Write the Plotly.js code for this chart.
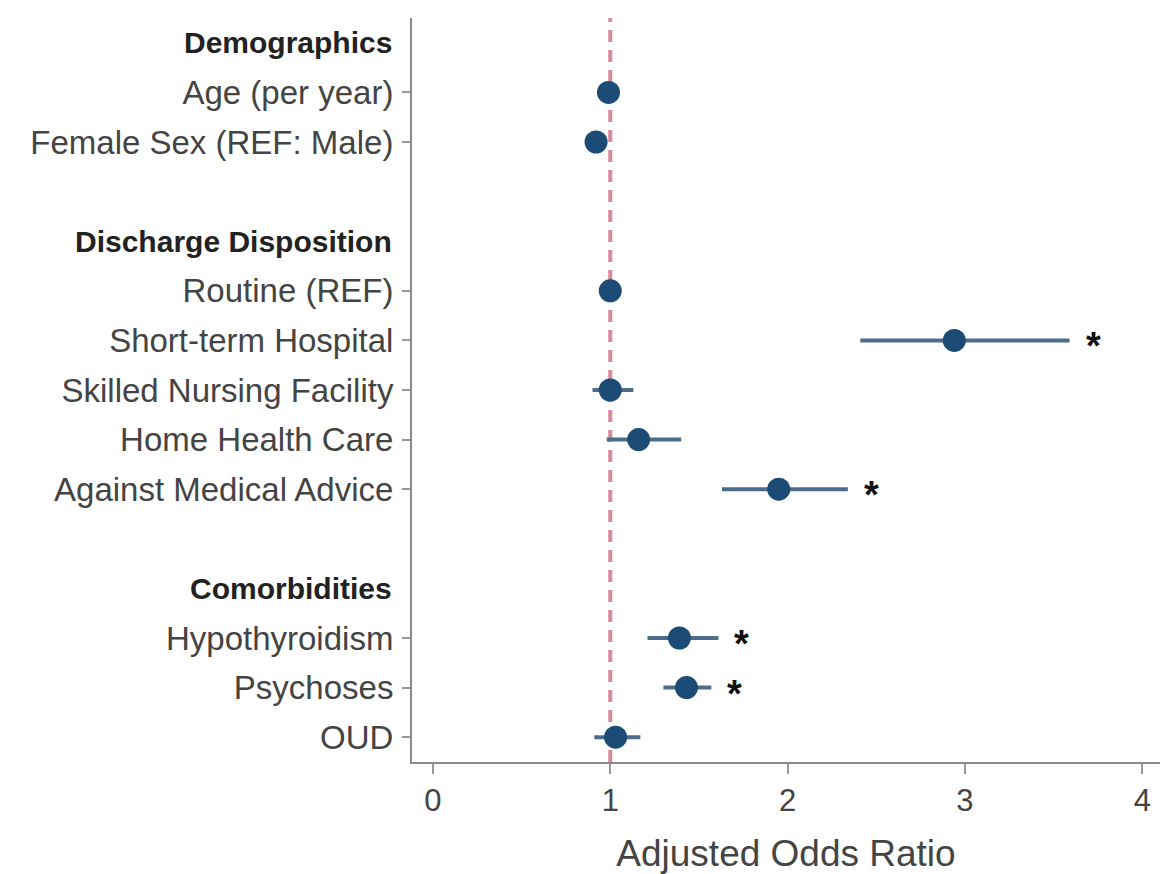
<!DOCTYPE html>
<html><head><meta charset="utf-8">
<script src="https://cdn.plot.ly/plotly-3.0.1.min.js"></script>
<style>html,body{margin:0;padding:0;background:#fff}#chart{width:1160px;height:874px}</style>
</head><body><div id="chart"></div>
<script>
// Row layout (top to bottom), headers and variables
const rowLabels = ["Demographics","Age (per year)","Female Sex (REF: Male)","",
  "Discharge Disposition","Routine (REF)","Short-term Hospital","Skilled Nursing Facility",
  "Home Health Care","Against Medical Advice","","Comorbidities","Hypothyroidism","Psychoses","OUD"];
const headerRows = ["Demographics","Discharge Disposition","Comorbidities"];
const variables = ["Age (per year)","Female Sex (REF: Male)","Routine (REF)","Short-term Hospital",
  "Skilled Nursing Facility","Home Health Care","Against Medical Advice","Hypothyroidism","Psychoses","OUD"];
const aor     = [0.99, 0.92, 1.00, 2.94, 1.00, 1.16, 1.95, 1.39, 1.43, 1.03];
const ciLower = [0.99, 0.92, 1.00, 2.41, 0.90, 0.98, 1.63, 1.21, 1.30, 0.91];
const ciUpper = [0.99, 0.92, 1.00, 3.59, 1.13, 1.40, 2.34, 1.61, 1.57, 1.17];
const significant = [false,false,false,true,false,false,true,true,true,false];
const referenceValue = 1;
const xTicks = [0,1,2,3,4];

const FONT = "Liberation Sans, Arial, sans-serif";
const yPos = variables.map(v => rowLabels.indexOf(v));

const trace = {
  type: "scatter", mode: "markers",
  x: aor, y: yPos,
  marker: {size: 23, color: "#1c4b76"},
  error_x: {
    type: "data", symmetric: false,
    array: aor.map((v,i) => ciUpper[i]-v),
    arrayminus: aor.map((v,i) => v-ciLower[i]),
    color: "#4d6b8a", thickness: 4, width: 0
  },
  hoverinfo: "skip", showlegend: false
};

const annotations = [];
headerRows.forEach(h => {
  annotations.push({
    xref: "paper", yref: "y", x: 0, y: rowLabels.indexOf(h),
    xanchor: "right", yanchor: "middle", xshift: -18,
    text: "<b>" + h + "</b>", showarrow: false,
    font: {family: FONT, size: 30, color: "#222"}
  });
});
variables.forEach((v,i) => {
  if (significant[i]) {
    annotations.push({
      xref: "x", yref: "y", x: ciUpper[i], y: yPos[i],
      xanchor: "left", yanchor: "middle", xshift: 14, yshift: -6,
      text: "<b>*</b>", showarrow: false,
      font: {family: FONT, size: 38, color: "#111"}
    });
  }
});

const layout = {
  width: 1160, height: 874,
  margin: {l: 412, r: 0, t: 18, b: 112},
  paper_bgcolor: "#fff", plot_bgcolor: "#fff",
  font: {family: FONT, color: "#444"},
  xaxis: {
    range: [-0.118, 4.10], tickvals: xTicks, ticktext: xTicks.map(String),
    showgrid: false, zeroline: false, showline: true, linecolor: "#8a8a8a", linewidth: 2,
    ticks: "outside", ticklen: 10, tickwidth: 2, tickcolor: "#999",
    tickfont: {family: FONT, size: 31, color: "#444"},
    title: {text: "Adjusted Odds Ratio", font: {family: FONT, size: 37, color: "#444"}, standoff: 26}
  },
  yaxis: {
    range: [14.5, -0.5], tickvals: yPos, ticktext: variables,
    showgrid: false, zeroline: false, showline: true, linecolor: "#8a8a8a", linewidth: 2,
    ticks: "outside", ticklen: 8, tickwidth: 2, tickcolor: "#999",
    ticklabelstandoff: 2,
    tickfont: {family: FONT, size: 33, color: "#444"}
  },
  shapes: [{
    type: "line", xref: "x", yref: "paper", x0: referenceValue, x1: referenceValue, y0: 0, y1: 1,
    line: {color: "#d98a9a", width: 4, dash: "12px,8px"}, layer: "below"
  }],
  annotations: annotations
};

Plotly.newPlot("chart", [trace], layout, {displayModeBar: false, staticPlot: true});
</script></body></html>
